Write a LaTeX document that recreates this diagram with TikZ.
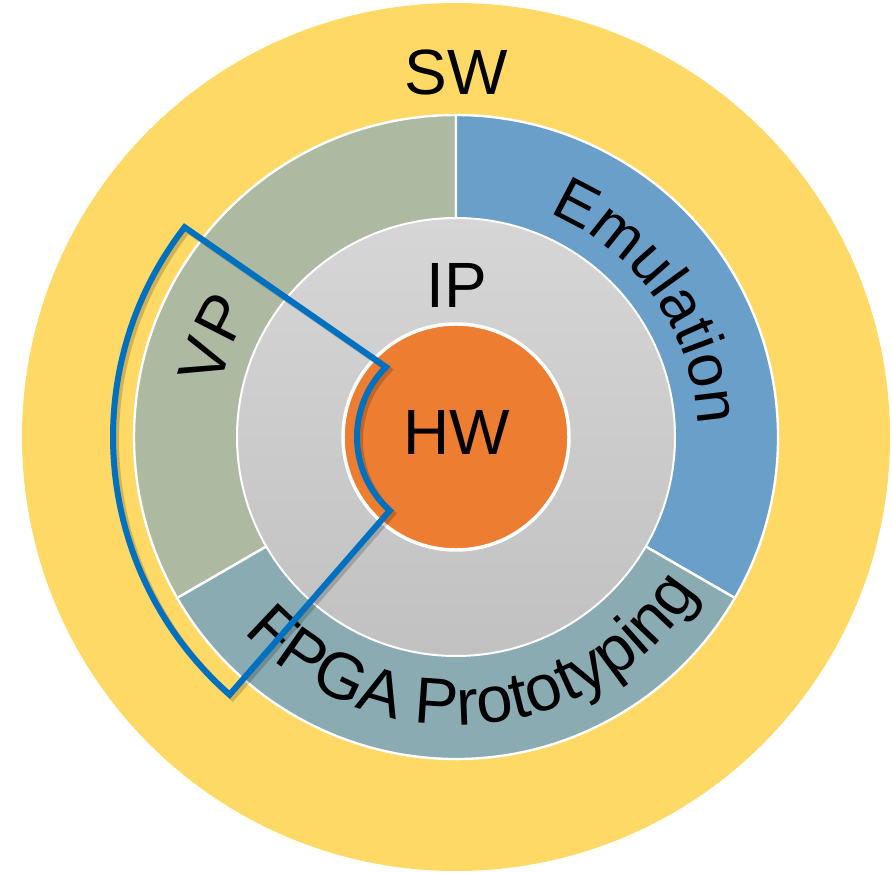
\documentclass[tikz,border=0pt]{standalone}
\usepackage{fontspec}
\setmainfont{Liberation Sans}
\usetikzlibrary{decorations.text}
\definecolor{swcol}{HTML}{FED966}
\definecolor{vpcol}{HTML}{ADB9A0}
\definecolor{emcol}{HTML}{6A9FCA}
\definecolor{fpcol}{HTML}{8AABB2}
\definecolor{iptop}{HTML}{D6D6D6}
\definecolor{ipbot}{HTML}{C1C1C1}
\definecolor{hwcol}{HTML}{ED7D31}
\definecolor{blueline}{HTML}{0070C0}
\begin{document}
\begin{tikzpicture}[x=0.75pt,y=0.75pt,
  lbl/.style={font=\fontsize{48}{48}\selectfont, inner sep=0pt, anchor=base},
  sector/.style={draw=white, line width=1.8pt, line join=round},
  outline/.style={line width=4.5pt, line join=miter}]
\useasboundingbox (0,0) rectangle (892,872);
\coordinate (c) at (456,435);
% SW disc
\fill[swcol] (c) circle[radius=434];
% ring sectors
\fill[vpcol, sector] (c) -- ([shift={(c)}]90:322) arc[start angle=90, end angle=210, radius=322] -- cycle;
\fill[emcol, sector] (c) -- ([shift={(c)}]-30:322) arc[start angle=-30, end angle=90, radius=322] -- cycle;
\fill[fpcol, sector] (c) -- ([shift={(c)}]210:322) arc[start angle=210, end angle=330, radius=322] -- cycle;
% IP disc
\shade[top color=iptop, bottom color=ipbot] (c) circle[radius=219];
\draw[white, line width=1.5pt] (c) circle[radius=219];
% HW disc
\fill[hwcol] (c) circle[radius=113];
\draw[white, line width=2.6pt] (c) circle[radius=113];
% texts
\node[lbl] (sw) at (456,777) {SW};
\node[lbl] (ip) at (457,564) {IP};
\node[lbl] (hw) at (457,417) {HW};
\path[decorate, decoration={text along path, text align=center,
    text={|\fontsize{46}{46}\selectfont|Emulation}}]
  ([shift={(c)}]85:242) arc[start angle=85, end angle=-15, radius=242];
\path[decorate, decoration={text along path, text align=center,
    text={|\fontsize{48}{48}\selectfont|VP}}]
  ([shift={(c)}]188:241) arc[start angle=188, end angle=128, radius=241];
\path[decorate, decoration={text along path, text align=center,
    text={|\fontsize{49}{49}\selectfont|FPGA Prototyping}}]
  ([shift={(c)}]200:288) arc[start angle=200, end angle=350, radius=288];
% blue outline with shadow
\draw[outline, black, opacity=0.18, shift={(3,-3)}]
  ([shift={(c)}]142.3:343) -- ([shift={(c)}]135:99)
  arc[start angle=135, end angle=228, radius=99]
  -- ([shift={(c)}]228.7:343)
  arc[start angle=228.7, end angle=142.3, radius=343] -- cycle;
\draw[outline, blueline]
  ([shift={(c)}]142.3:343) -- ([shift={(c)}]135:99)
  arc[start angle=135, end angle=228, radius=99]
  -- ([shift={(c)}]228.7:343)
  arc[start angle=228.7, end angle=142.3, radius=343] -- cycle;
\end{tikzpicture}
\end{document}
